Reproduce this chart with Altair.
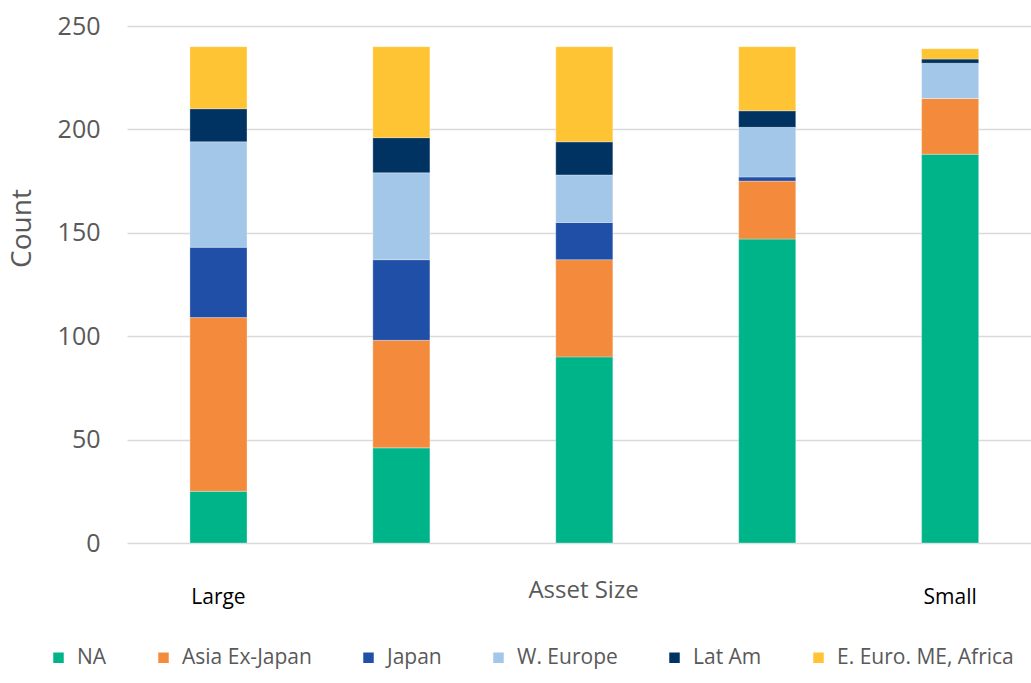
import altair as alt
import pandas as pd

sizes = ["Large", "Mid-Large", "Mid", "Mid-Small", "Small"]
regions = ["NA", "Asia Ex-Japan", "Japan", "W. Europe", "Lat Am", "E. Euro. ME, Africa"]
colors = ["#00B48A", "#F48B3C", "#1F4FA7", "#A3C7E9", "#003362", "#FFC433"]

na_counts = [25, 46, 90, 147, 188]
asia_counts = [84, 52, 47, 28, 27]
japan_counts = [34, 39, 18, 2, 0]
weur_counts = [51, 42, 23, 24, 17]
latam_counts = [16, 17, 16, 8, 2]
eeuro_counts = [30, 44, 46, 31, 5]

series = [na_counts, asia_counts, japan_counts, weur_counts, latam_counts, eeuro_counts]

rows = []
for i, (reg, vals) in enumerate(zip(regions, series)):
    for s, v in zip(sizes, vals):
        rows.append({"size": s, "region": reg, "count": v, "order": i})
df = pd.DataFrame(rows)

grey = "#595959"

chart = alt.Chart(df).mark_bar(stroke="white", strokeWidth=0.5, strokeOpacity=0.6).encode(
    x=alt.X(
        "size:N",
        sort=sizes,
        scale=alt.Scale(paddingInner=0.688, paddingOuter=0.315, align=0.546),
        axis=alt.Axis(
            title="Asset Size",
            labelExpr="datum.value == 'Large' || datum.value == 'Small' ? datum.value : ''",
            domain=False, ticks=False, grid=False, labelAngle=0,
            labelFontSize=21, labelColor="#000000", labelPadding=60,
            labelBaseline="alphabetic",
            titleFontSize=24, titleColor=grey, titleFontWeight="normal",
            titleY=54, titleBaseline="alphabetic", titleX=456,
        ),
    ),
    y=alt.Y(
        "count:Q",
        stack="zero",
        scale=alt.Scale(domain=[0, 250]),
        axis=alt.Axis(
            values=[0, 50, 100, 150, 200, 250],
            domain=False, ticks=False, grid=True,
            gridColor="#D9D9D9", gridWidth=1.5,
            labelFontSize=25, labelColor=grey, labelPadding=27,
            title="Count", titleFontSize=28, titleColor=grey, titleFontWeight="normal",
            titleAngle=270, titleX=-105, titleY=202, titleAlign="center", titleBaseline="middle",
        ),
    ),
    color=alt.Color(
        "region:N",
        sort=regions,
        scale=alt.Scale(domain=regions, range=colors),
        legend=alt.Legend(
            orient="none", legendX=-79, legendY=621, direction="horizontal",
            title=None, symbolType="square", symbolSize=110, symbolStrokeWidth=0,
            labelFontSize=21, labelColor=grey, columnPadding=46, labelOffset=8,
            labelLimit=400, padding=0, columns=6,
        ),
    ),
    order=alt.Order("order:Q", sort="ascending"),
).properties(
    width=904, height=517,
    autosize=alt.AutoSizeParams(type="none"),
    padding={"left": 127, "top": 26, "right": 0, "bottom": 140},
).configure(font="Open Sans").configure_view(stroke=None)

chart.save("out.html", embed_options={"renderer": "svg", "actions": False})
